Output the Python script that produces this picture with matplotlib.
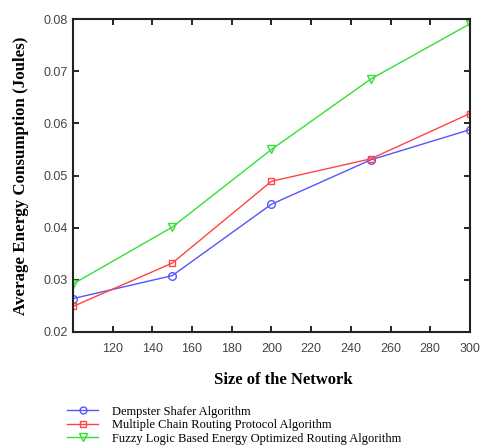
import matplotlib
matplotlib.use("Agg")
import matplotlib.pyplot as plt

sizes = [100, 150, 200, 250, 300]
dempster = [0.0264, 0.0308, 0.0445, 0.0530, 0.0588]
multichain = [0.0249, 0.0332, 0.0489, 0.0532, 0.0619]
fuzzy = [0.0292, 0.0401, 0.0550, 0.0685, 0.0791]
labels = ["Dempster Shafer Algorithm",
          "Multiple Chain Routing Protocol Algorithm",
          "Fuzzy Logic Based Energy Optimized Routing Algorithm"]
xticks = [120, 140, 160, 180, 200, 220, 240, 260, 280, 300]
yticks = [0.02, 0.03, 0.04, 0.05, 0.06, 0.07, 0.08]

fig = plt.figure(figsize=(4.8, 4.45), dpi=100)
ax = fig.add_axes([0.152, 0.254, 0.827, 0.703])

ax.plot(sizes, dempster, color="#5555ff", marker="o", mfc="none", ms=5.5, mew=1, lw=1, label=labels[0])
ax.plot(sizes, multichain, color="#ff4444", marker="s", mfc="none", ms=4.5, mew=1, lw=1, label=labels[1])
ax.plot(sizes, fuzzy, color="#33e033", marker="v", mfc="none", ms=6, mew=1, lw=1, label=labels[2])

ax.set_xlim(100, 300)
ax.set_ylim(0.02, 0.08)
ax.set_xticks(xticks)
ax.set_yticks(yticks)
ax.set_yticklabels([f"{v:.2f}" for v in yticks])
ax.tick_params(direction="in", top=True, right=True, length=4, width=1.2,
               labelsize=9, labelcolor="#444444")
ax.tick_params(axis="x", pad=8)
ax.tick_params(axis="y", pad=4)
for lab in ax.get_xticklabels() + ax.get_yticklabels():
    lab.set_family("Liberation Sans")
for s in ax.spines.values():
    s.set_linewidth(1.5)
    s.set_color("#222222")

ax.set_xlabel("Size of the Network", family="Liberation Serif", fontweight="bold",
              fontsize=12)
ax.xaxis.set_label_coords(0.53, -0.128)
ax.set_ylabel("Average Energy Consumption (Joules)", family="Liberation Serif",
              fontweight="bold", fontsize=12.2)
ax.yaxis.set_label_coords(-0.112, 0.5)

fig.legend(loc="upper left", bbox_to_anchor=(0.127, 0.102), frameon=False,
           prop={"family": "Liberation Serif", "size": 9}, handlelength=2.5,
           labelspacing=0.12, handletextpad=1.1, borderpad=0, markerscale=0.9)

fig.savefig("out.png", dpi=100)
